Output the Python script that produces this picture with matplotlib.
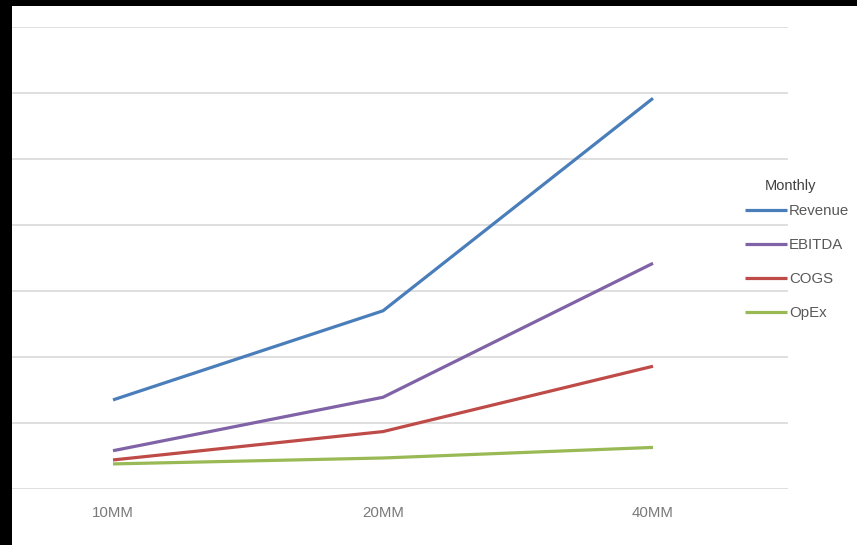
import matplotlib
matplotlib.use("Agg")
import matplotlib.pyplot as plt

# data (one gridline = 1 unit)
categories = ["10MM", "20MM", "40MM"]
revenue = [1.35, 2.70, 5.92]
ebitda = [0.58, 1.39, 3.42]
cogs = [0.44, 0.87, 1.86]
opex = [0.38, 0.47, 0.63]

series = [
    ("Revenue", revenue, "#4A7EBB"),
    ("EBITDA", ebitda, "#7F63A6"),
    ("COGS", cogs, "#BE4B48"),
    ("OpEx", opex, "#98B954"),
]

W, H = 857, 545
fig = plt.figure(figsize=(W / 100, H / 100), dpi=100)
fig.patch.set_facecolor("black")

# white page area (black strips at top and left as in the screenshot)
bg = fig.add_axes([12 / W, 0, 1 - 12 / W, 1 - 6 / H])
bg.set_facecolor("white")
bg.set_xticks([])
bg.set_yticks([])
for s in bg.spines.values():
    s.set_visible(False)

ax = fig.add_axes([12 / W, 1 - 489 / H, (788 - 12) / W, (489 - 27) / H])
ax.patch.set_alpha(0)
x = list(range(len(categories)))
for name, vals, col in series:
    ax.plot(x, vals, color=col, lw=2.3, label=name, solid_capstyle="butt")

ax.set_xlim((12 - 113) / 270, (788 - 113) / 270)
ax.set_ylim(0, 7)
ax.set_yticks(range(0, 8))
ax.set_yticklabels([])
ax.set_xticks(x)
ax.set_xticklabels(categories, fontsize=10.8, color="#7a7a7a", family="Liberation Sans")
ax.tick_params(axis="both", length=0)
ax.tick_params(axis="x", pad=12)
ax.grid(axis="y", color="#dcdcdc", lw=1.3)
ax.set_axisbelow(True)
for s in ax.spines.values():
    s.set_visible(False)

# legend title drawn separately so the gap below it matches
fig.text(791 / W, 1 - 186 / H, "Monthly", ha="center", va="center",
         fontsize=10.5, color="#404040", family="Liberation Sans")
leg = ax.legend(loc="upper left", bbox_to_anchor=(745 / W, 1 - 204 / H),
                bbox_transform=fig.transFigure, frameon=False,
                handlelength=2.8, handletextpad=0.12,
                labelspacing=1.34, borderpad=0, borderaxespad=0,
                prop={"family": "Liberation Sans", "size": 10.8})
for t in leg.get_texts():
    t.set_color("#595959")

fig.savefig("out.png", dpi=100, facecolor=fig.get_facecolor())
